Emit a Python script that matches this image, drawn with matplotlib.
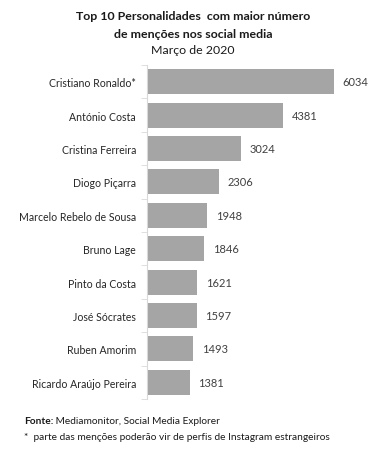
import matplotlib.pyplot as plt
import numpy as np

# Data
names = ["Cristiano Ronaldo*", "António Costa", "Cristina Ferreira", "Diogo Piçarra",
         "Marcelo Rebelo de Sousa", "Bruno Lage", "Pinto da Costa", "José Sócrates",
         "Ruben Amorim", "Ricardo Araújo Pereira"]
mentions = [6034, 4381, 3024, 2306, 1948, 1846, 1621, 1597, 1493, 1381]

plt.rcParams['font.family'] = ['Lato', 'DejaVu Sans']

fig = plt.figure(figsize=(3.86, 4.52), dpi=100)
ax = fig.add_axes([0.381, 0.115, 0.562, 0.739])

y = np.arange(len(names))
ax.barh(y, mentions, height=0.75, color="#a5a5a5")
ax.set_ylim(len(names) - 0.5, -0.5)
ax.set_xlim(0, 7000)

for yi, v in zip(y, mentions):
    ax.text(v + 280, yi, str(v), va="center", ha="left", fontsize=8, color="#404040")

ax.set_yticks(y)
ax.set_yticklabels(names, fontsize=7.6, color="#262626")
ax.tick_params(axis="y", length=0, pad=8)
ax.set_yticks(np.arange(-0.5, len(names)), minor=True)
ax.tick_params(axis="y", which="minor", length=4, color="#d9d9d9")
ax.set_xticks([])
for s in ["top", "right", "bottom"]:
    ax.spines[s].set_visible(False)
ax.spines["left"].set_color("#d9d9d9")

# Title
fig.text(0.5, 1 - 17 / 452, "Top 10 Personalidades  com maior número", ha="center", va="center",
         fontsize=8.9, fontweight="bold", color="#1a1a1a")
fig.text(0.5, 1 - 34 / 452, "de menções nos social media", ha="center", va="center",
         fontsize=8.9, fontweight="bold", color="#1a1a1a")
fig.text(0.5, 1 - 50 / 452, "Março de 2020", ha="center", va="center",
         fontsize=8.9, color="#1a1a1a")

# Footer: bold "Fonte:" then the rest right after it
fonte = fig.text(24 / 386, 1 - 424 / 452, "Fonte:", ha="left", va="baseline",
                 fontsize=7.3, fontweight="bold", color="#1a1a1a")
fig.canvas.draw()
x_end = fig.transFigure.inverted().transform((fonte.get_window_extent().x1, 0))[0]
fig.text(x_end, 1 - 424 / 452, " Mediamonitor, Social Media Explorer", ha="left", va="baseline",
         fontsize=7.3, color="#1a1a1a")
fig.text(24 / 386, 1 - 440 / 452, "*  parte das menções poderão vir de perfis de Instagram estrangeiros",
         ha="left", va="baseline", fontsize=7.3, color="#1a1a1a")

fig.savefig("out.png", dpi=100)
